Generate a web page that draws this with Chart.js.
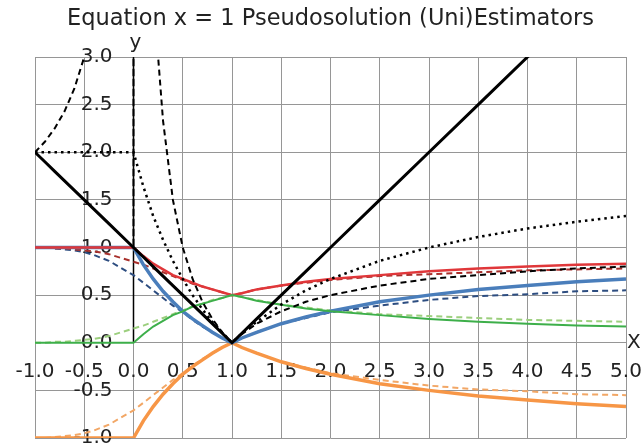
<!DOCTYPE html>
<html>
<head>
<meta charset="utf-8">
<script src="https://cdn.jsdelivr.net/npm/chart.js@4.4.1/dist/chart.umd.min.js"></script>
<style>
  body { margin: 0; background: #fff; }
  canvas { display: block; }
</style>
</head>
<body>
<canvas id="myChart" width="644" height="445"></canvas>
<script>
// sample points shared by most curves
const xs = [-1, -0.9, -0.8, -0.7, -0.6, -0.5, -0.4, -0.25, 0, 0.1, 0.2, 0.3, 0.4, 0.5, 0.6, 0.7, 0.8, 0.9, 1, 1.1, 1.25, 1.5, 1.75, 2, 2.5, 3, 3.5, 4, 4.5, 5];

// |x - 1|
const absError = [2, 1.9, 1.8, 1.7, 1.6, 1.5, 1.4, 1.25, 1, 0.9, 0.8, 0.7, 0.6, 0.5, 0.4, 0.3, 0.2, 0.1, 0, 0.1, 0.25, 0.5, 0.75, 1, 1.5, 2, 2.5, 3, 3.5, 4];
// relative to the mean modulus
const meanRelError = [2, 2, 2, 2, 2, 2, 2, 2, 2, 1.64, 1.33, 1.08, 0.86, 0.67, 0.50, 0.35, 0.22, 0.11, 0, 0.10, 0.22, 0.40, 0.55, 0.67, 0.86, 1.00, 1.11, 1.20, 1.27, 1.33];

// relative to |x|, own sampling because of the pole at 0
const relXs = [-1, -0.9, -0.8, -0.7, -0.6, -0.5, -0.45, -0.01, 0, 0.01, 0.2, 0.25, 0.3, 0.4, 0.5, 0.6, 0.7, 0.8, 0.9, 1, 1.1, 1.25, 1.5, 1.75, 2, 2.5, 3, 3.5, 4, 4.5, 5];
const relError = [2, 2.11, 2.25, 2.43, 2.67, 3.0, 3.22, 101, 1, 99, 4, 3, 2.33, 1.5, 1, 0.67, 0.43, 0.25, 0.11, 0, 0.09, 0.2, 0.33, 0.43, 0.5, 0.6, 0.67, 0.71, 0.75, 0.78, 0.8];

// linear unierror and friends
const uniError = [1, 1, 1, 1, 1, 1, 1, 1, 1, 0.82, 0.67, 0.54, 0.43, 0.33, 0.25, 0.18, 0.11, 0.05, 0, 0.05, 0.11, 0.20, 0.27, 0.33, 0.43, 0.50, 0.56, 0.60, 0.64, 0.67];
const uniUpper = [1, 1, 1, 1, 1, 1, 1, 1, 1, 0.91, 0.83, 0.77, 0.71, 0.67, 0.63, 0.59, 0.56, 0.53, 0.50, 0.52, 0.56, 0.60, 0.64, 0.67, 0.71, 0.75, 0.78, 0.80, 0.82, 0.83];
const uniReliab = [0, 0, 0, 0, 0, 0, 0, 0, 0, 0.09, 0.17, 0.23, 0.29, 0.33, 0.38, 0.41, 0.44, 0.47, 0.50, 0.48, 0.44, 0.40, 0.36, 0.33, 0.29, 0.25, 0.22, 0.20, 0.18, 0.17];
const uniNeg = [-1, -1, -1, -1, -1, -1, -1, -1, -1, -0.82, -0.67, -0.54, -0.43, -0.33, -0.25, -0.18, -0.11, -0.05, 0, -0.05, -0.11, -0.20, -0.27, -0.33, -0.43, -0.50, -0.56, -0.60, -0.64, -0.67];

// quadratic versions
const qError = [1.00, 1.00, 0.99, 0.98, 0.97, 0.95, 0.92, 0.86, 0.71, 0.63, 0.55, 0.47, 0.39, 0.32, 0.24, 0.17, 0.11, 0.05, 0, 0.05, 0.11, 0.20, 0.26, 0.32, 0.39, 0.45, 0.49, 0.51, 0.54, 0.55];
const qUpper = [1.00, 1.00, 0.99, 0.99, 0.98, 0.97, 0.96, 0.93, 0.85, 0.82, 0.78, 0.74, 0.70, 0.66, 0.62, 0.59, 0.56, 0.53, 0.50, 0.52, 0.56, 0.60, 0.63, 0.66, 0.70, 0.72, 0.74, 0.76, 0.77, 0.78];
const qReliab = [0, 0, 0.01, 0.01, 0.02, 0.03, 0.04, 0.07, 0.15, 0.18, 0.22, 0.26, 0.30, 0.34, 0.38, 0.41, 0.45, 0.47, 0.50, 0.48, 0.45, 0.40, 0.37, 0.34, 0.30, 0.28, 0.26, 0.24, 0.23, 0.22];
const qNeg = [-1.00, -1.00, -0.99, -0.98, -0.97, -0.95, -0.92, -0.86, -0.71, -0.63, -0.55, -0.47, -0.39, -0.32, -0.24, -0.17, -0.11, -0.05, 0, -0.05, -0.11, -0.20, -0.26, -0.32, -0.39, -0.45, -0.49, -0.51, -0.54, -0.55];

const xTickLabels = ['-1.0', '-0.5', '0.0', '0.5', '1.0', '1.5', '2.0', '2.5', '3.0', '3.5', '4.0', '4.5', '5.0'];
const yTickLabels = ['-1.0', '-0.5', '0.0', '0.5', '1.0', '1.5', '2.0', '2.5', '3.0'];

const FONT = '"DejaVu Sans", Verdana, sans-serif';

function pts(xv, yv) {
	return xv.map((x, i) => ({x: x, y: yv[i]}));
}

function line(data, color, width, dash, order) {
	return {
		data: data,
		borderColor: color,
		borderWidth: width,
		borderDash: dash,
		pointRadius: 0,
		tension: 0,
		fill: false,
		order: order
	};
}

// axis at x = 0 (from 0 up) plus the tick labels sitting on the axes
const axisLabels = {
	id: 'axisLabels',
	beforeDatasetsDraw(chart) {
		const ctx = chart.ctx;
		const xs_ = chart.scales.x;
		const ys_ = chart.scales.y;
		const x0 = xs_.getPixelForValue(0);
		const y0 = ys_.getPixelForValue(0);
		const area = chart.chartArea;

		ctx.save();
		ctx.strokeStyle = '#000';
		ctx.lineWidth = 1.5;
		ctx.beginPath();
		ctx.moveTo(x0, y0);
		ctx.lineTo(x0, area.top);
		ctx.stroke();

		ctx.fillStyle = '#222';
		ctx.font = '20px ' + FONT;
		ctx.textAlign = 'center';
		ctx.textBaseline = 'middle';
		xTickLabels.forEach(t => {
			ctx.fillText(t, xs_.getPixelForValue(parseFloat(t)), y0 + 29);
		});
		ctx.textAlign = 'right';
		yTickLabels.forEach(t => {
			ctx.fillText(t, x0 - 21, ys_.getPixelForValue(parseFloat(t)));
		});

		ctx.textAlign = 'center';
		ctx.textBaseline = 'alphabetic';
		ctx.fillText('y', x0 + 2, area.top - 9);
		ctx.textAlign = 'left';
		ctx.textBaseline = 'middle';
		ctx.fillText('X', area.right + 1, y0);
		ctx.restore();
	}
};

let myChart1 = document.getElementById('myChart').getContext('2d');

let chart1 = new Chart(myChart1, {
	type: 'line',
	data: {
		datasets: [
			line(pts(xs, absError), '#000', 3, [], 0),
			line(pts(xs, meanRelError), '#000', 2.5, [2.5, 4], 1),
			line(pts(relXs, relError), '#000', 2, [6, 4], 2),
			line(pts(xs, uniReliab), '#3daf4a', 2, [], 3),
			line(pts(xs, uniUpper), '#e0373a', 2.5, [], 4),
			line(pts(xs, uniError), '#4a7ebb', 3.5, [], 5),
			line(pts(xs, uniNeg), '#f79646', 3.5, [], 6),
			line(pts(xs, qUpper), '#a8302c', 2, [6, 4], 7),
			line(pts(xs, qError), '#2d4d80', 2, [6, 4], 8),
			line(pts(xs, qReliab), '#9ccf7e', 2, [6, 4], 9),
			line(pts(xs, qNeg), '#f2a766', 2, [6, 4], 10)
		]
	},
	options: {
		responsive: false,
		animation: false,
		layout: {
			padding: {left: 35, right: 18, top: 0, bottom: 7}
		},
		scales: {
			x: {
				type: 'linear',
				min: -1,
				max: 5,
				ticks: {stepSize: 0.5, display: false},
				grid: {color: '#969696', lineWidth: 1, drawTicks: false},
				border: {display: false}
			},
			y: {
				type: 'linear',
				min: -1,
				max: 3,
				ticks: {stepSize: 0.5, display: false},
				grid: {color: '#969696', lineWidth: 1, drawTicks: false},
				border: {display: false}
			}
		},
		plugins: {
			title: {
				text: 'Equation x = 1 Pseudosolution (Uni)Estimators',
				display: true,
				color: '#222',
				font: {family: FONT, size: 22.5, weight: 'normal'},
				padding: {top: 6, bottom: 24}
			},
			legend: {
				display: false
			},
			tooltip: {
				enabled: false
			}
		}
	},
	plugins: [axisLabels]
});
</script>
</body>
</html>
